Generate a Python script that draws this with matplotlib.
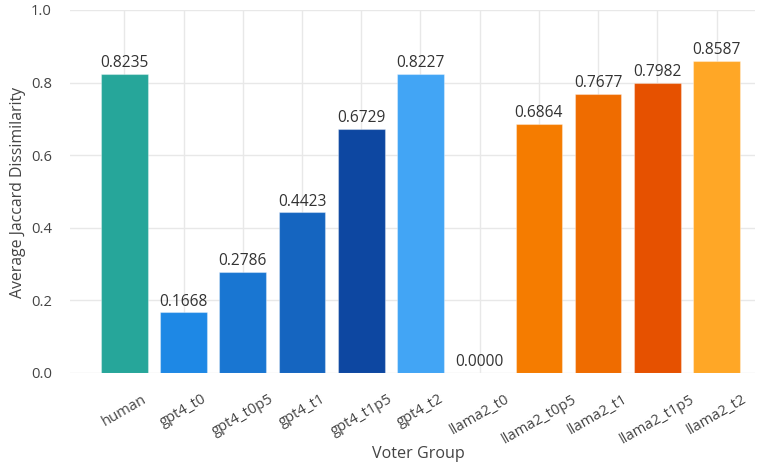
import matplotlib
matplotlib.use("Agg")
import matplotlib.pyplot as plt
import matplotlib.transforms as mtransforms

plt.rcParams['font.family'] = ['Open Sans', 'DejaVu Sans']

groups = ["human", "gpt4_t0", "gpt4_t0p5", "gpt4_t1", "gpt4_t1p5", "gpt4_t2",
          "llama2_t0", "llama2_t0p5", "llama2_t1", "llama2_t1p5", "llama2_t2"]
values = [0.8235, 0.1668, 0.2786, 0.4423, 0.6729, 0.8227,
          0.0000, 0.6864, 0.7677, 0.7982, 0.8587]
colors = ["#26a69a", "#1e88e5", "#1976d2", "#1565c0", "#0d47a1", "#42a5f5",
          "#fb8c00", "#f57c00", "#ef6c00", "#e65100", "#ffa726"]

fig = plt.figure(figsize=(7.6, 4.68), dpi=100)
ax = fig.add_axes([70/760, 95/468, 685/760, 363/468])

x = list(range(len(groups)))
ax.bar(x, values, width=0.79, color=colors, edgecolor=(1, 1, 1, 0.35),
       linewidth=0.8, zorder=3)
for xi, v in zip(x, values):
    ax.text(xi, v + 0.008, f"{v:.4f}", ha='center', va='bottom',
            fontsize=11.2, color='#333333', zorder=4)

ax.set_xlim(-0.92, 10.65)
ax.set_ylim(0, 1.0)
ax.set_yticks([0, 0.2, 0.4, 0.6, 0.8, 1.0])
ax.set_yticklabels(["0.0", "0.2", "0.4", "0.6", "0.8", "1.0"])
ax.set_xticks(x)
ax.set_xticklabels(groups, rotation=30, ha='center', va='top')
shift = mtransforms.ScaledTranslation(-3/100, 0, fig.dpi_scale_trans)
for lab in ax.get_xticklabels():
    lab.set_transform(lab.get_transform() + shift)
ax.tick_params(axis='both', length=0, labelsize=10.6, colors='#444444')
ax.tick_params(axis='x', pad=13.5)
ax.tick_params(axis='y', pad=13)
ax.grid(True, color='#e8e8e8', linewidth=1, zorder=0)
for s in ax.spines.values():
    s.set_visible(False)
ax.set_xlabel("Voter Group", fontsize=11.6, color='#444444')
ax.set_ylabel("Average Jaccard Dissimilarity", fontsize=11.4, color='#444444')
ax.xaxis.set_label_coords((418 - 70) / 685, -(446 - 373) / 363)
ax.yaxis.set_label_coords(-(70 - 26) / 685, (373 - 192) / 363)

fig.savefig("out.png", dpi=100)
